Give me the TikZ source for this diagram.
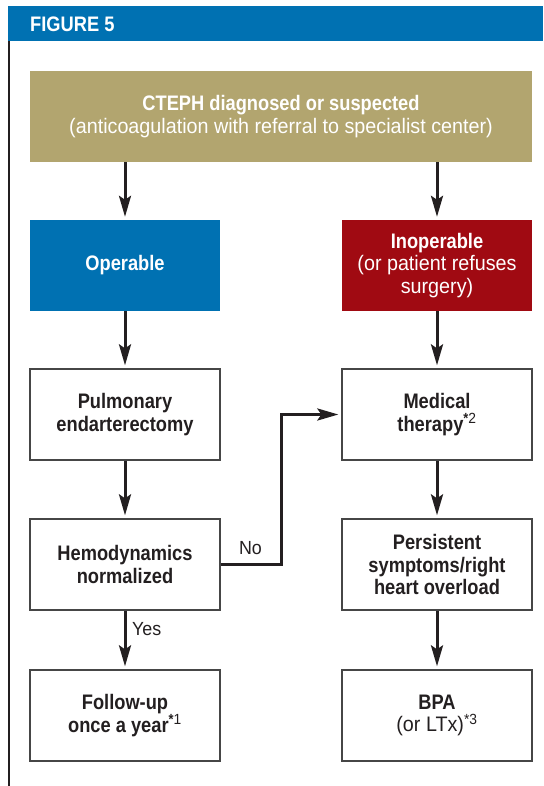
\documentclass[tikz,border=0pt]{standalone}
\usepackage{fontspec}
\setmainfont{Liberation Sans}
\newfontfamily\bcond{Liberation Sans}[FakeStretch=0.87]
\newfontfamily\rcond{Liberation Sans}[FakeStretch=0.94]
\newcommand\regc{\rcond\mdseries}
\usetikzlibrary{arrows.meta}
\definecolor{hdrblue}{RGB}{0,113,178}
\definecolor{tanbox}{RGB}{178,165,111}
\definecolor{redbox}{RGB}{160,10,18}
\definecolor{inkdark}{RGB}{35,31,32}
\definecolor{boxgray}{RGB}{70,70,70}
\tikzset{
  boxfont/.style={font=\bcond\bfseries\fontsize{21}{22.5}\selectfont},
  whitebox/.style={boxfont, draw=boxgray, line width=1.3pt, fill=white, text=inkdark,
    minimum width=190pt, minimum height=91pt, align=center, inner sep=2pt},
  fillbox/.style={boxfont, text=white, minimum width=190pt, minimum height=91pt,
    align=center, inner sep=2pt},
  arr/.style={line width=3pt, draw=inkdark, shorten >=3pt,
    -{Stealth[length=21pt,width=12pt,inset=4pt]}},
  lbl/.style={font=\regc\fontsize{19}{21}\selectfont, text=inkdark, inner sep=0pt},
  figlabel/.style={font=\bcond\bfseries\fontsize{21}{22}\selectfont, text=white, inner sep=0pt}
}
\begin{document}
\begin{tikzpicture}[x=1pt,y=-1pt]
\useasboundingbox (0,0) rectangle (543,786);
\fill[hdrblue] (7.5,6) rectangle (543,41);
\node[figlabel, anchor=west] (fig) at (30,24) {FIGURE 5};
\draw[line width=2pt, color=inkdark] (9,41) -- (9,786);

\node[fillbox, fill=tanbox, minimum width=502pt] (top) at (281,116.5)
  {CTEPH diagnosed or suspected\\\regc (anticoagulation with referral to specialist center)};
\node[fillbox, fill=hdrblue] (op) at (125,265.5) {Operable};
\node[fillbox, fill=redbox] (inop) at (437,265.5)
  {Inoperable\\\regc (or patient refuses\\\regc surgery)};
\node[whitebox] (pulm) at (125,414.5) {Pulmonary\\endarterectomy};
\node[whitebox] (med) at (437,414.5) {Medical\\therapy\textsuperscript{*\regc 2}};
\node[whitebox] (hemo) at (125,564.5) {Hemodynamics\\normalized};
\node[whitebox] (pers) at (437,564.5) {Persistent\\symptoms/right\\heart overload};
\node[whitebox] (fol) at (125,715.5) {Follow-up\\once a year\textsuperscript{*\regc 1}};
\node[whitebox] (bpa) at (437,715.5) {BPA\\\regc (or LTx)\textsuperscript{*3}};

\draw[arr] (top.south -| op.north) -- (op.north);
\draw[arr] (top.south -| inop.north) -- (inop.north);
\draw[arr] (op.south) -- (pulm.north);
\draw[arr] (pulm.south) -- (hemo.north);
\draw[arr] (hemo.south) -- (fol.north);
\draw[arr] (inop.south) -- (med.north);
\draw[arr] (med.south) -- (pers.north);
\draw[arr] (pers.south) -- (bpa.north);
\coordinate (bend) at (281,564.5);
\draw[arr] (hemo.east) -- (bend) |- (med.west);

\node[lbl] (no) at (250.5,548.5) {No};
\node[lbl, anchor=west] (yes) at (132,629.5) {Yes};
\end{tikzpicture}
\end{document}
